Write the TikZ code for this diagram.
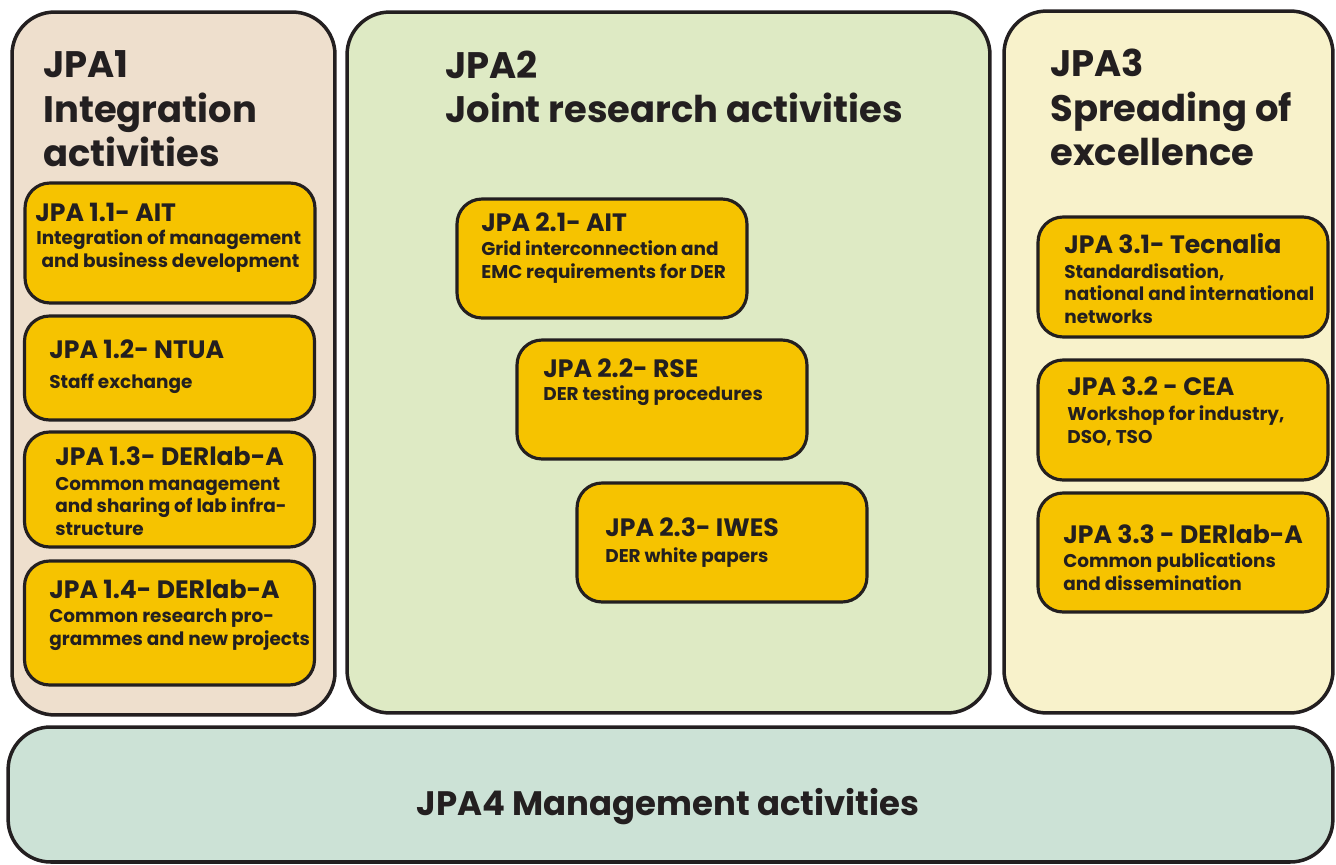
\documentclass[tikz,border=0pt]{standalone}
\usepackage{fontspec}
\setmainfont{Poppins}
\definecolor{edge}{RGB}{35,31,32}
\definecolor{taskfill}{RGB}{246,195,0}
\definecolor{fillA}{RGB}{238,223,205}
\definecolor{fillB}{RGB}{222,234,196}
\definecolor{fillC}{RGB}{248,242,203}
\definecolor{fillD}{RGB}{204,226,214}
\begin{document}
\begin{tikzpicture}[x=0.02cm,y=-0.02cm]\tikzset{area/.style = {draw=edge, line width=2pt, rounded corners=0.85cm, inner sep=0pt},
	task/.style = {draw=edge, line width=1.8pt, rounded corners=0.5cm, fill=taskfill, inner sep=0pt, minimum width=5.8cm},
	head/.style = {anchor=base west, inner sep=0pt, text=edge, align=left, font=\bfseries\fontsize{21}{25.6}\selectfont},
	ttl/.style = {anchor=base west, inner sep=0pt, text=edge, font=\bfseries\fontsize{14.3}{16}\selectfont},
	txt/.style = {anchor=base west, inner sep=0pt, text=edge, align=left, font=\bfseries\fontsize{10.5}{12.8}\selectfont}}

		\useasboundingbox (0,0) rectangle (1336,865);
		\begin{scope}
		\clip (0,0) rectangle (1336,865);
		\node[area, fill=fillA, minimum width=6.46cm, minimum height=14.06cm] (JPA1) at (173.5,363.5) {};
		\node[area, fill=fillB, minimum width=12.86cm, minimum height=14.02cm] (JPA2) at (668.5,362.5) {};
		\node[area, fill=fillC, minimum width=6.58cm, minimum height=14.04cm] (JPA3) at (1168.5,362) {};
		\node[area, fill=fillD, minimum width=26.5cm, minimum height=2.7cm] (JPA4) at (670.5,794.5) {};
		\end{scope}

		% multi-line texts sit on the baseline of their last line
		\node[head] (H_1) at (43,167) {JPA1\\Integration\\activities};
		\node[head] (H_2) at (445,123) {JPA2\\Joint research activities};
		\node[head] (H_3) at (1050,166) {JPA3\\Spreading of\\excellence};
		\node[head, anchor=base, font=\bfseries\fontsize{19.3}{23}\selectfont] (H_4) at (668,815) {JPA4 Management activities};

		\node[task, minimum height=2.4cm] (T_11) at (170,243) {};
		\node[task, minimum height=2.08cm] (T_12) at (169.5,368) {};
		\node[task, minimum height=2.3cm] (T_13) at (169.5,489.5) {};
		\node[task, minimum height=2.48cm] (T_14) at (169.5,623) {};
		\node[task, minimum height=2.38cm] (T_21) at (602,258.5) {};
		\node[task, minimum height=2.38cm] (T_22) at (662,399.5) {};
		\node[task, minimum height=2.38cm] (T_23) at (722,542.5) {};
		\node[task, minimum height=2.4cm] (T_31) at (1183,277) {};
		\node[task, minimum height=2.4cm] (T_32) at (1183,420) {};
		\node[task, minimum height=2.38cm] (T_33) at (1183,552.5) {};

		\node[ttl] (L_11) at (35,221) {JPA 1.1- AIT};
		\node[txt] (D_11) at (36,267) {Integration of management\\ \hspace{3pt}and business development};
		\node[ttl] (L_12) at (49,358) {JPA 1.2- NTUA};
		\node[txt] (D_12) at (49,388) {Staff exchange};
		\node[ttl] (L_13) at (55,465) {JPA 1.3- DERlab-A};
		\node[txt] (D_13) at (55,535) {Common management\\and sharing of lab infra-\\structure};
		\node[ttl] (L_14) at (49,598) {JPA 1.4- DERlab-A};
		\node[txt] (D_14) at (49,645) {Common research pro-\\grammes and new projects};
		\node[ttl] (L_21) at (481,232) {JPA 2.1- AIT};
		\node[txt] (D_21) at (481,278) {Grid interconnection and\\EMC requirements for DER};
		\node[ttl] (L_22) at (543,377) {JPA 2.2- RSE};
		\node[txt] (D_22) at (543,400) {DER testing procedures};
		\node[ttl] (L_23) at (605,536) {JPA 2.3- IWES};
		\node[txt] (D_23) at (605,562) {DER white papers};
		\node[ttl] (L_31) at (1064,254) {JPA 3.1- Tecnalia};
		\node[txt] (D_31) at (1064,323) {Standardisation,\\national and international\\networks};
		\node[ttl] (L_32) at (1067,395) {JPA 3.2 - CEA};
		\node[txt] (D_32) at (1067,443) {Workshop for industry,\\DSO, TSO};
		\node[ttl] (L_33) at (1063,543) {JPA 3.3 - DERlab-A};
		\node[txt] (D_33) at (1063,590) {Common publications\\and dissemination};
	\end{tikzpicture}
\end{document}
